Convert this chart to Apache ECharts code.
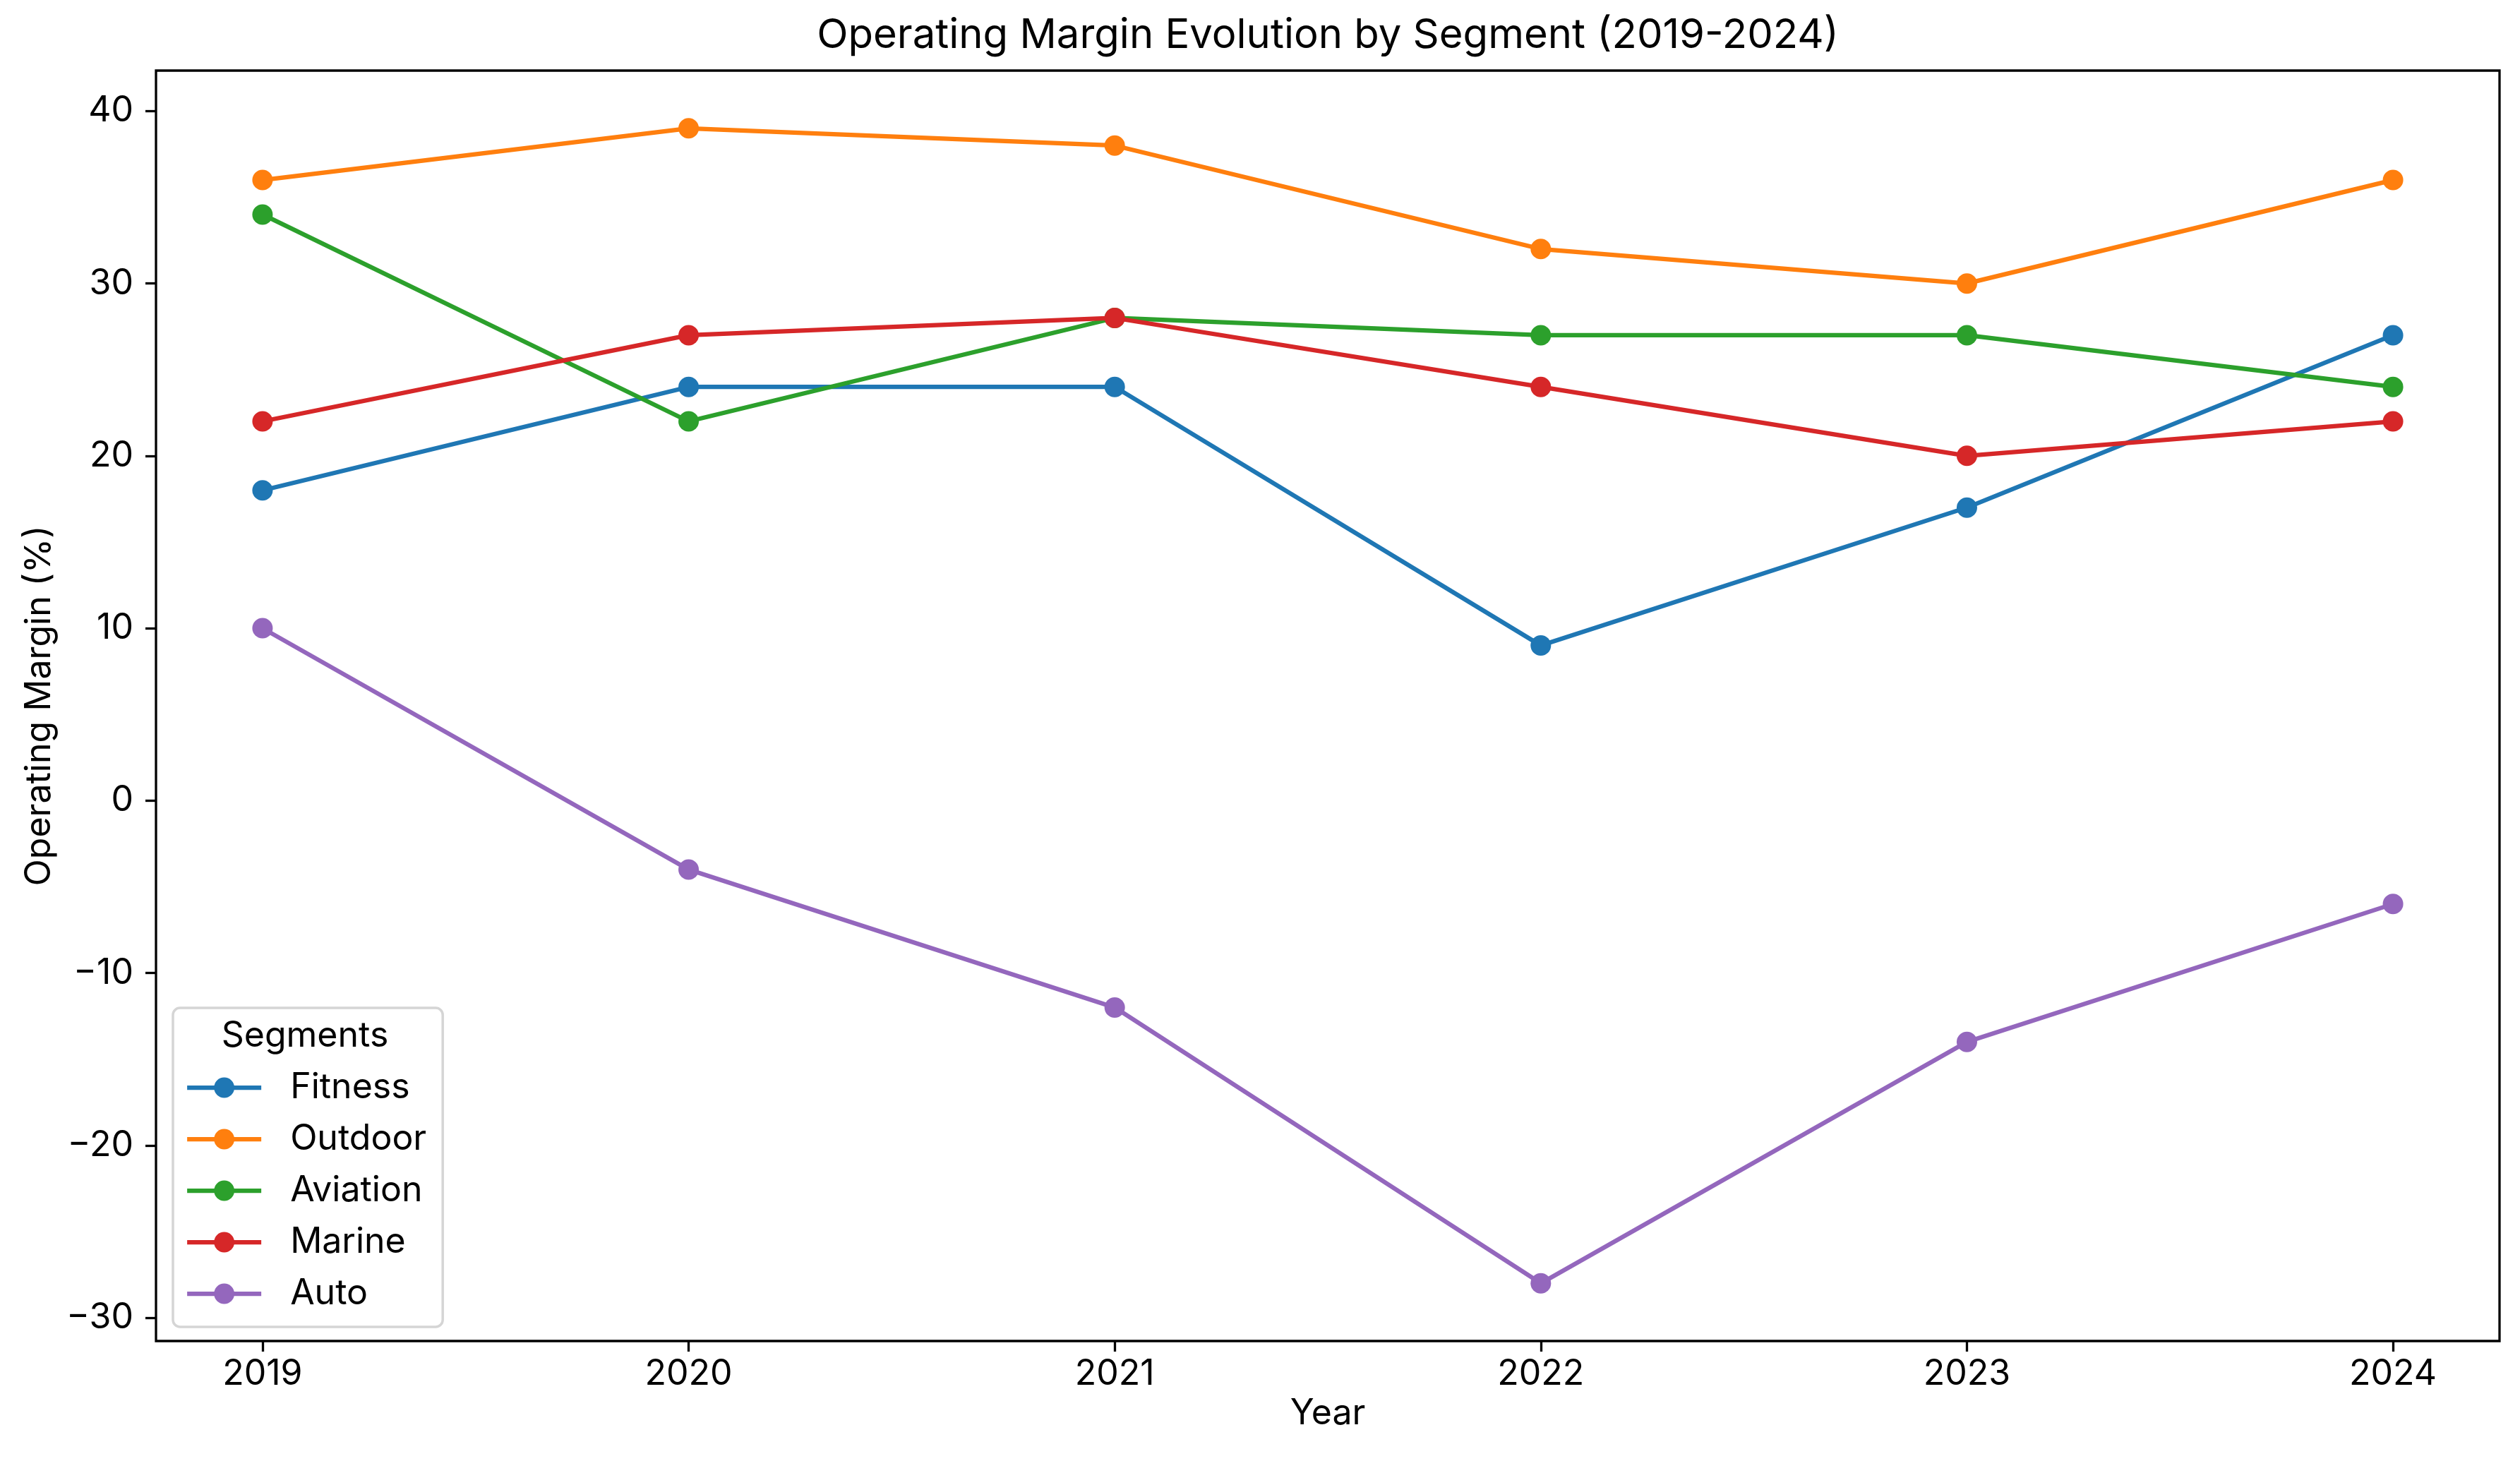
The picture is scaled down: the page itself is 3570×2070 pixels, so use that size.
<!DOCTYPE html>
<html><head><meta charset="utf-8">
<script src="https://cdn.jsdelivr.net/npm/echarts@6/dist/echarts.min.js"></script>
<style>html,body{margin:0;padding:0;background:#fff}#c{width:3570px;height:2070px}</style>
</head><body><div id="c"></div>
<script>
const years = [2019, 2020, 2021, 2022, 2023, 2024];
const fitness = [18, 24, 24, 9, 17, 27];
const outdoor = [36, 39, 38, 32, 30, 36];
const aviation = [34, 22, 28, 27, 27, 24];
const marine = [22, 27, 28, 24, 20, 22];
const auto = [10, -4, -12, -28, -14, -6];
const segmentNames = ['Fitness', 'Outdoor', 'Aviation', 'Marine', 'Auto'];
const segmentValues = [fitness, outdoor, aviation, marine, auto];
const colors = ['#1f77b4', '#ff7f0e', '#2ca02c', '#d62728', '#9467bd'];
const yTicks = [-30, -20, -10, 0, 10, 20, 30, 40];

const FONT = 'Inter';
const chart = echarts.init(document.getElementById('c'), null, {renderer: 'canvas'});

const series = segmentNames.map((name, i) => ({
  name: name,
  type: 'line',
  data: years.map((y, j) => [y, segmentValues[i][j]]),
  symbol: 'circle',
  symbolSize: 29,
  showAllSymbol: true,
  lineStyle: {width: 6.25, color: colors[i]},
  itemStyle: {color: colors[i]},
  z: 2 + i,
  emphasis: {disabled: true}
}));

const fmt = v => String(v).replace('-', '\u2212');

chart.setOption({
  animation: false,
  backgroundColor: '#fff',
  textStyle: {fontFamily: FONT},
  grid: {left: 221, right: 29, top: 100, bottom: 170, show: true, borderColor: '#000', borderWidth: 3.3, backgroundColor: 'transparent', containLabel: false},
  graphic: [
    {type: 'text', x: 1881, y: 51, style: {text: 'Operating Margin Evolution by Segment (2019-2024)', font: '58px Inter', fill: '#000', align: 'center', verticalAlign: 'middle'}},
    {type: 'text', x: 432, y: 1468, z: 100, style: {text: 'Segments', font: '50px Inter', fill: '#000', align: 'center', verticalAlign: 'middle'}}
  ],
  legend: {
    orient: 'vertical',
    left: 245,
    top: 1428,
    data: segmentNames,
    itemWidth: 105,
    itemHeight: 36,
    itemGap: 23,
    padding: [88, 23, 22, 17],
    backgroundColor: 'rgba(255,255,255,0.8)',
    borderColor: '#d5d5d5',
    borderWidth: 3.5,
    borderRadius: 10,
    lineStyle: {width: 6.25},
    textStyle: {fontSize: 50, fontFamily: FONT, color: '#000', lineHeight: 36, padding: [0, 0, 0, 36]},
    selectedMode: false,
    z: 50
  },
  xAxis: {
    type: 'value',
    min: 2018.75,
    max: 2024.25,
    axisLine: {show: false, onZero: false},
    splitLine: {show: false},
    axisTick: {show: true, customValues: years, length: 15, lineStyle: {color: '#000', width: 3.3}},
    axisLabel: {customValues: years, fontSize: 50, color: '#000', margin: 22, fontFamily: FONT, formatter: v => String(v)},
    name: 'Year',
    nameLocation: 'middle',
    nameGap: 78,
    nameTextStyle: {fontSize: 50, color: '#000', fontFamily: FONT}
  },
  yAxis: {
    type: 'value',
    min: -31.35,
    max: 42.35,
    axisLine: {show: false, onZero: false},
    splitLine: {show: false},
    axisTick: {show: true, customValues: yTicks, length: 15, lineStyle: {color: '#000', width: 3.3}},
    axisLabel: {customValues: yTicks, fontSize: 50, color: '#000', margin: 32, fontFamily: FONT, formatter: fmt},
    name: 'Operating Margin (%)',
    nameLocation: 'middle',
    nameGap: 140,
    nameTextStyle: {fontSize: 50, color: '#000', fontFamily: FONT}
  },
  series: series
});
</script></body></html>
